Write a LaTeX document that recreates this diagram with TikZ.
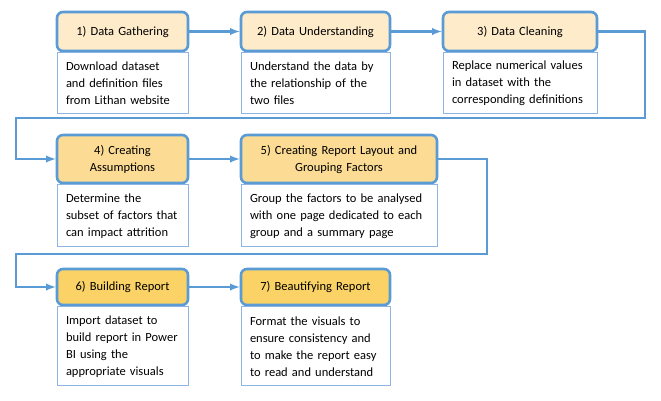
\documentclass[tikz,border=0pt]{standalone}
\usepackage{fontspec}
\setmainfont{Carlito}
\usepackage{tikz}
\usetikzlibrary{positioning}

\definecolor{stepblue}{HTML}{5B9BD5}
\definecolor{textblue}{HTML}{8EB4E3}
\definecolor{peachA}{HTML}{FDEBC9}
\definecolor{peachB}{HTML}{FCDC95}
\definecolor{peachC}{HTML}{FAD266}

\begin{document}
\begin{tikzpicture}[x=1pt, y=-1pt,
    headbox/.style={rectangle, rounded corners=6pt, draw=stepblue, line width=2.6pt, align=center, inner xsep=5pt, inner ysep=2pt, font=\fontsize{12.5}{17}\selectfont},
    textbox/.style={rectangle, draw=textblue, line width=0.9pt, fill=white, align=left, inner xsep=9pt, inner ysep=2pt, font=\fontsize{12.5}{17}\selectfont},
    flow/.style={draw=stepblue, line width=2.3pt, -latex},]
    \useasboundingbox (0,0) rectangle (661,400);

    %Nodes
    \node[headbox, fill=peachA, text width=121pt, minimum height=39pt] (gather) at (122.5,31.5) {1) Data Gathering};
    \node[headbox, fill=peachA, text width=139pt, minimum height=39pt] (understand) at (315.5,31.5) {2) Data Understanding};
    \node[headbox, fill=peachA, text width=144pt, minimum height=39pt] (clean) at (520,31.5) {3) Data Cleaning};
    \node[headbox, fill=peachB, text width=121pt, minimum height=48pt] (assume) at (122.5,159) {4) Creating\\Assumptions};
    \node[headbox, fill=peachB, text width=186pt, minimum height=48pt] (layout) at (339,159) {5) Creating Report Layout and\\Grouping Factors};
    \node[headbox, fill=peachC, text width=121pt, minimum height=36pt] (build) at (122.5,287) {6) Building Report};
    \node[headbox, fill=peachC, text width=139pt, minimum height=36pt] (beautify) at (315.5,287) {7) Beautifying Report};

    \node[textbox, text width=113pt, minimum height=61pt] (gatherText) [below=0pt of gather] {Download dataset\\and definition files\\from Lithan website};
    \node[textbox, text width=131pt, minimum height=61pt] (understandText) [below=0pt of understand] {Understand the data by\\the relationship of the\\two files};
    \node[textbox, text width=136pt, minimum height=61pt] (cleanText) [below=0pt of clean] {Replace numerical values\\in dataset with the\\corresponding definitions};
    \node[textbox, text width=113pt, minimum height=62pt] (assumeText) [below=0pt of assume] {Determine the\\subset of factors that\\can impact attrition};
    \node[textbox, text width=178pt, minimum height=62pt] (layoutText) [below=0pt of layout] {Group the factors to be analysed\\with one page dedicated to each\\group and a summary page};
    \node[textbox, text width=113pt, minimum height=79pt] (buildText) [below=0pt of build] {Import dataset to\\build report in Power\\BI using the\\appropriate visuals};
    \node[textbox, text width=131pt, minimum height=79pt] (beautifyText) [below=0pt of beautify] {Format the visuals to\\ensure consistency and\\to make the report easy\\to read and understand};

    \coordinate (turnR1) at (645,118);
    \coordinate (turnL1) at (16,118);
    \coordinate (turnR2) at (487,254);
    \coordinate (turnL2) at (16,254);

    % %Lines
    \draw[flow] (gather.east) -- (understand.west);
    \draw[flow] (understand.east) -- (clean.west);
    \draw[flow] (clean.east) -| (turnR1) -- (turnL1) |- (assume.west);
    \draw[flow] (assume.east) -- (layout.west);
    \draw[flow] (layout.east) -| (turnR2) -- (turnL2) |- (build.west);
    \draw[flow] (build.east) -- (beautify.west);
\end{tikzpicture}
\end{document}
